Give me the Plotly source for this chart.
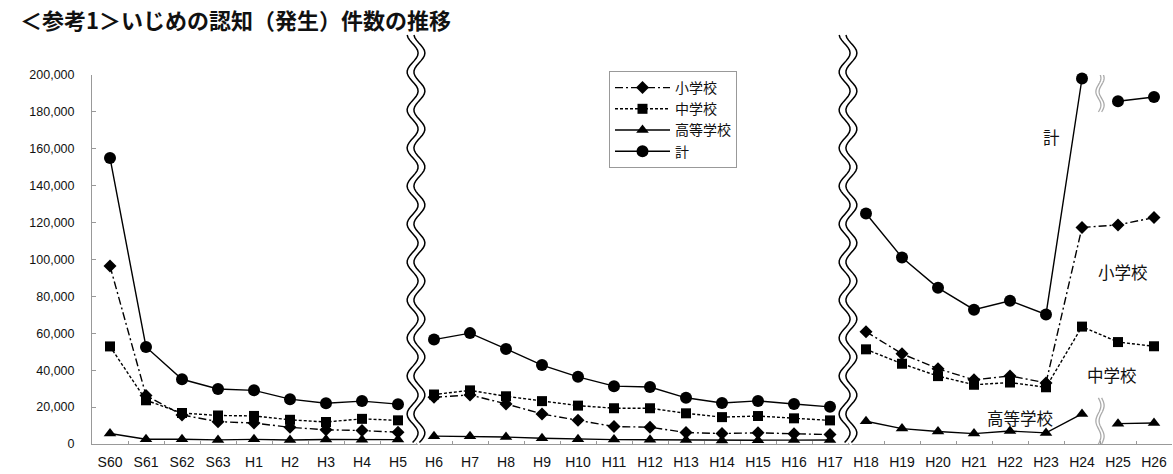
import numpy as np
import plotly.graph_objects as go

# ---------------- data ----------------
categories = ["S60", "S61", "S62", "S63", "H1", "H2", "H3", "H4", "H5",
              "H6", "H7", "H8", "H9", "H10", "H11", "H12", "H13", "H14", "H15", "H16", "H17",
              "H18", "H19", "H20", "H21", "H22", "H23", "H24", "H25", "H26"]
elementary = [96457, 26306, 15727, 12122, 11350, 9035, 7718, 7300, 6390,
              25295, 26614, 21733, 16294, 12858, 9462, 9114, 6206, 5659, 6051, 5551, 5087,
              60897, 48896, 40807, 34766, 36909, 33124, 117384, 118748, 122734]
junior = [52891, 23690, 16796, 15452, 15215, 13121, 11922, 13632, 12817,
          26828, 29069, 25862, 23234, 20801, 19383, 19371, 16635, 14562, 15159, 13915, 12794,
          51310, 43505, 36795, 32111, 33323, 30749, 63634, 55248, 52971]
high = [5718, 2614, 2544, 2212, 2523, 2152, 2422, 2326, 2391,
        4253, 4184, 3771, 3103, 2576, 2391, 2327, 2119, 1906, 2070, 2121, 2191,
        12307, 8355, 6737, 5642, 7018, 6020, 16274, 11039, 11404]
total = [155066, 52610, 35067, 29786, 29088, 24308, 22062, 23258, 21598,
         56601, 60096, 51544, 42790, 36396, 31359, 30918, 25037, 22205, 23351, 21671, 20143,
         124898, 101097, 84648, 72778, 77630, 70231, 198109, 185803, 188072]

series_names = ["小学校", "中学校", "高等学校", "計"]
y_ticks = list(range(0, 200001, 20000))

# breaks in the series (after these category positions)
major_breaks = ["H5", "H17"]
minor_break = "H24"

# ---------------- layout constants ----------------
W, H = 1173, 474
ML, MR, MT, MB = 92, 1, 75, 30
PW = W - ML - MR
PH = H - MT - MB
N = len(categories)
PX_X = PW / N          # px per category unit
FONT_JP = "Noto Sans CJK JP"
FONT_NUM = "Liberation Sans, Arial, sans-serif"

major_idx = [categories.index(c) for c in major_breaks]
minor_idx = categories.index(minor_break)


def with_breaks(values, breaks):
    xs, ys = [], []
    for i, v in enumerate(values):
        xs.append(i)
        ys.append(v)
        if i in breaks:
            xs.append(i + 0.5)
            ys.append(None)
    return xs, ys


styles = [
    dict(values=elementary, dash="8px,3px,2px,3px", symbol="diamond", size=10,
         breaks=major_idx),
    dict(values=junior, dash="3px,2px", symbol="square", size=10,
         breaks=major_idx),
    dict(values=high, dash="solid", symbol="triangle-up", size=11,
         breaks=major_idx + [minor_idx]),
    dict(values=total, dash="solid", symbol="circle", size=12,
         breaks=major_idx + [minor_idx]),
]

fig = go.Figure()
for name, st in zip(series_names, styles):
    xs, ys = with_breaks(st["values"], st["breaks"])
    fig.add_trace(go.Scatter(
        x=xs, y=ys, name=name, mode="lines+markers",
        line=dict(color="black", width=1.4, dash=st["dash"]),
        marker=dict(symbol=st["symbol"], size=st["size"], color="black"),
        connectgaps=False, cliponaxis=False,
        hovertemplate="%{y:,}<extra>" + name + "</extra>",
    ))

# ---------------- break decorations ----------------
shapes = []


def wave_path(xc, y0, y1, amp_x, period_y, offset_x=0.0, n=160):
    ys = np.linspace(y0, y1, n)
    xs = xc + offset_x + amp_x * np.sin(2 * np.pi * (ys - y0) / period_y)
    return "M " + " L ".join(f"{x:.4f},{y:.5f}" for x, y in zip(xs, ys))


amp = 5.5 / PX_X
sep = 3.4 / PX_X
period = 38 / PH
top = (PH + MT - 35) / PH
for bi in major_idx:
    xc = bi + 0.5
    shapes.append(dict(type="path", xref="x", yref="paper",
                       path=wave_path(xc, 0.004, top, amp, period),
                       line=dict(color="white", width=8), layer="above"))
    for off in (-sep, sep):
        shapes.append(dict(type="path", xref="x", yref="paper",
                           path=wave_path(xc, 0.004, top, amp, period, off),
                           line=dict(color="black", width=1.5), layer="above"))

# small grey squiggles at the H24/H25 break
xc = minor_idx + 0.5
for (ya, yb) in [(180000, 202000), (0, 25000)]:
    per = (yb - ya) / 1.5
    for off in (-1.6 / PX_X, 1.6 / PX_X):
        shapes.append(dict(type="path", xref="x", yref="y",
                           path=wave_path(xc, ya, yb, 2.5 / PX_X, per, off, n=60),
                           line=dict(color="#aaaaaa", width=1.3), layer="above"))

# ---------------- annotations ----------------
annos = [
    dict(text="計", x=26.14, y=166400),
    dict(text="小学校", x=28.14, y=93200),
    dict(text="中学校", x=27.83, y=37400),
    dict(text="高等学校", x=25.28, y=14100),
]
annotations = [dict(xref="x", yref="y", showarrow=False, xanchor="center", yanchor="middle",
                    font=dict(family=FONT_JP, size=16.5, color="#111"), **a) for a in annos]

fig.update_layout(
    width=W, height=H,
    margin=dict(l=ML, r=MR, t=MT, b=MB, pad=0),
    paper_bgcolor="white", plot_bgcolor="white",
    title=dict(text="＜参考1＞いじめの認知（発生）件数の推移",
               xref="container", yref="container", x=20 / W, y=1 - 21 / H,
               xanchor="left", yanchor="middle",
               font=dict(family=FONT_JP, size=22, color="#111", weight="bold")),
    xaxis=dict(range=[-0.5, N - 0.5], tickmode="array",
               tickvals=list(range(N)), ticktext=categories,
               showgrid=False, zeroline=False, showline=True,
               linecolor="#999", linewidth=1, ticks="",
               minor=dict(tickmode="array", tickvals=[i + 0.5 for i in range(N - 1)],
                          ticks="inside", ticklen=3, tickcolor="#999"),
               tickfont=dict(family=FONT_NUM, size=14, color="#111"),
               ticklabelstandoff=5),
    yaxis=dict(range=[0, 200000], tickmode="array", tickvals=y_ticks,
               ticktext=[f"{v:,}" for v in y_ticks],
               showgrid=False, zeroline=False, showline=True,
               linecolor="#999", linewidth=1, ticks="inside", ticklen=4, tickcolor="#999",
               tickfont=dict(family=FONT_NUM, size=12.5, color="#111"),
               ticklabelstandoff=14),
    legend=dict(x=(609 - ML) / PW, y=(PH + MT - 71) / PH, xanchor="left", yanchor="top",
                bgcolor="white", bordercolor="#999", borderwidth=1,
                font=dict(family=FONT_JP, size=14, color="#111"),
                itemwidth=55, tracegroupgap=0),
    shapes=shapes,
    annotations=annotations,
    showlegend=True,
)

fig.write_html("out.html")
